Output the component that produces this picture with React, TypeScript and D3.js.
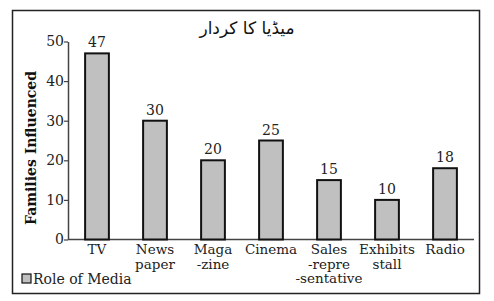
import React, { useEffect, useRef } from "react";
import * as d3 from "d3";

const categories = ["TV", "News\npaper", "Maga\n-zine", "Cinema", "Sales\n-repre\n-sentative", "Exhibits\nstall", "Radio"];
const values = [47, 30, 20, 25, 15, 10, 18];
const yTicks = [0, 10, 20, 30, 40, 50];
const title = "میڈیا کا کردار";
const yLabel = "Families Influenced";
const legendLabel = "Role of Media";

const App = () => {
  const svgRef = useRef<SVGSVGElement | null>(null);

  useEffect(() => {
    const width = 494;
    const height = 301;
    const svg = d3.select(svgRef.current).attr("width", width).attr("height", height);
    svg.selectAll("*").remove();

    const font = "'DejaVu Serif', serif";

    svg.append("rect").attr("width", width).attr("height", height).attr("fill", "#fff");
    svg
      .append("rect")
      .attr("x", 12.5)
      .attr("y", 10.5)
      .attr("width", 467)
      .attr("height", 283)
      .attr("fill", "none")
      .attr("stroke", "#222")
      .attr("stroke-width", 1.5);

    const x = d3.scaleBand().domain(categories).range([68, 474]).paddingInner(0.59).paddingOuter(0.295);
    const y = d3.scaleLinear().domain([0, 50]).range([239.5, 41.5]);

    // title
    svg
      .append("text")
      .attr("x", 247)
      .attr("y", 34)
      .attr("text-anchor", "middle")
      .attr("font-family", "'DejaVu Sans', sans-serif")
      .attr("font-size", 17)
      .attr("fill", "#111")
      .text(title);

    // y axis
    const yAxis = svg
      .append("g")
      .attr("transform", "translate(68,0)")
      .call(d3.axisLeft(y).tickValues(yTicks).tickSize(4).tickSizeOuter(0));
    yAxis.select(".domain").attr("stroke", "#444").attr("stroke-width", 1.5);
    yAxis.selectAll(".tick line").attr("stroke", "#444").attr("stroke-width", 1.2);
    yAxis
      .selectAll(".tick text")
      .attr("font-family", font)
      .attr("font-size", 14)
      .attr("fill", "#222")
      .attr("x", -4);

    // x axis line
    svg
      .append("line")
      .attr("x1", 68)
      .attr("x2", 474)
      .attr("y1", y(0))
      .attr("y2", y(0))
      .attr("stroke", "#444")
      .attr("stroke-width", 1.5);

    // y label
    svg
      .append("text")
      .attr("transform", `translate(36,148) rotate(-90)`)
      .attr("text-anchor", "middle")
      .attr("font-family", font)
      .attr("font-weight", "bold")
      .attr("font-size", 14)
      .attr("fill", "#111")
      .text(yLabel);

    const data = categories.map((c, i) => ({ c, v: values[i] }));

    svg
      .selectAll(".bar")
      .data(data)
      .join("rect")
      .attr("class", "bar")
      .attr("x", (d) => x(d.c)!)
      .attr("y", (d) => y(d.v))
      .attr("width", x.bandwidth())
      .attr("height", (d) => y(0) - y(d.v))
      .attr("fill", "#c0c0c0")
      .attr("stroke", "#111")
      .attr("stroke-width", 2);

    svg
      .selectAll(".val")
      .data(data)
      .join("text")
      .attr("class", "val")
      .attr("x", (d) => x(d.c)! + x.bandwidth() / 2)
      .attr("y", (d) => y(d.v) - 6)
      .attr("text-anchor", "middle")
      .attr("font-family", font)
      .attr("font-size", 14)
      .attr("fill", "#222")
      .text((d) => d.v);

    const labels = svg
      .selectAll(".xl")
      .data(data)
      .join("text")
      .attr("class", "xl")
      .attr("text-anchor", "middle")
      .attr("font-family", font)
      .attr("font-size", 13.5)
      .attr("fill", "#222");
    labels
      .selectAll("tspan")
      .data((d) => d.c.split("\n").map((t) => ({ t, c: d.c })))
      .join("tspan")
      .attr("x", (d) => x(d.c)! + x.bandwidth() / 2)
      .attr("y", (d, i) => 254 + i * 14.5)
      .text((d) => d.t);

    // legend
    svg
      .append("rect")
      .attr("x", 22)
      .attr("y", 274)
      .attr("width", 9)
      .attr("height", 9)
      .attr("fill", "#c0c0c0")
      .attr("stroke", "#111")
      .attr("stroke-width", 1.2);
    svg
      .append("text")
      .attr("x", 33)
      .attr("y", 284)
      .attr("font-family", font)
      .attr("font-size", 14)
      .attr("fill", "#222")
      .text(legendLabel);
  }, []);

  return (
    <div style={{ position: "absolute", left: 0, top: 0 }}>
      <svg ref={svgRef}></svg>
    </div>
  );
};

export default App;
